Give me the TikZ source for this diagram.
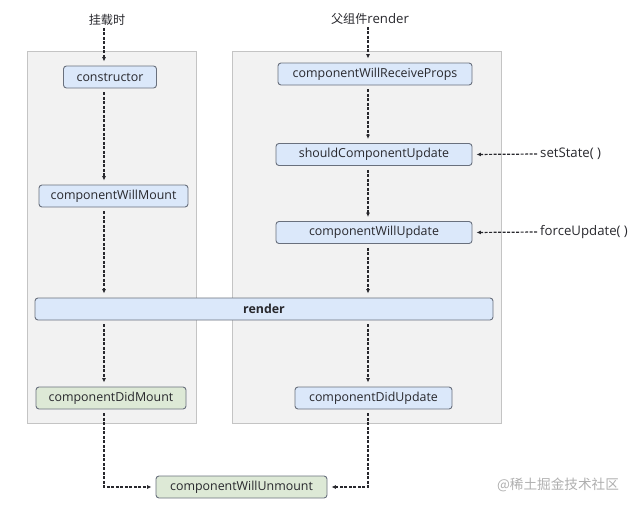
\documentclass[tikz,border=0pt]{standalone}
\usepackage{fontspec}
\setmainfont{Open Sans}
\newfontfamily\cjk[Scale=0.92]{Noto Sans CJK SC}
\usetikzlibrary{positioning,arrows.meta}
\definecolor{phasefill}{RGB}{242,242,242}
\definecolor{phaseline}{RGB}{196,196,196}
\definecolor{hookfill}{RGB}{219,232,250}
\definecolor{mountfill}{RGB}{221,233,214}
\definecolor{hookline}{RGB}{105,112,125}
\definecolor{hooktext}{RGB}{40,40,45}
\definecolor{marktext}{RGB}{175,175,175}
\tikzset{
  phase/.style={draw=phaseline,fill=phasefill,line width=0.8pt},
  hook/.style={draw=hookline,fill=hookfill,rounded corners=3pt,line width=0.9pt,
    minimum height=22pt,inner sep=0pt,text=hooktext,font=\fontsize{12.4}{14}\selectfont},
  mounthook/.style={hook,fill=mountfill},
  caption/.style={text=hooktext,inner sep=1pt,font=\fontsize{13.2}{15}\selectfont},
  flow/.style={-{Latex[length=4.5pt,width=4pt]},dash pattern=on 3pt off 1.5pt,
    line width=1.2pt,draw=hooktext,shorten >=4pt,shorten <=4pt}
}
\begin{document}
\begin{tikzpicture}[x=1pt,y=-1pt]
  \useasboundingbox (0,0) rectangle (632,506);
  % phases
  \draw[phase] (27,51) rectangle (196,423);
  \draw[phase] (232,51) rectangle (501,423);
  \coordinate (mountcol) at (104,0);
  \coordinate (updatecol) at (368,0);
  % mounting
  \node[caption] (mountlabel) at (107,20) {\cjk 挂载时};
  \node[hook,minimum width=93pt] (constructor) at (110,77) {constructor};
  \node[hook,minimum width=149pt] (willmount) at (113.5,196) {componentWillMount};
  \node[hook,minimum width=458pt,font=\fontsize{12.4}{14}\selectfont\bfseries] (render) at (264,309) {render};
  \node[mounthook,minimum width=150pt] (didmount) at (111,398) {componentDidMount};
  \node[mounthook,minimum width=171pt] (willunmount) at (241.5,487) {componentWillUnmount};
  % updating
  \node[caption] (parentlabel) at (370,19) {{\cjk 父组件}render};
  \node[hook,minimum width=194pt] (receiveprops) at (375,74) {componentWillReceiveProps};
  \node[hook,minimum width=196pt] (shouldupdate) at (374,154.5) {shouldComponentUpdate};
  \node[hook,minimum width=196pt] (willupdate) at (374,232.5) {componentWillUpdate};
  \node[hook,minimum width=157pt] (didupdate) at (373.5,398) {componentDidUpdate};
  \node[caption,anchor=west] (setstate) at (539,154) {setState( )};
  \node[caption,anchor=west] (forceupdate) at (539,232) {forceUpdate( )};
  \node[caption,text=marktext,font=\fontsize{14.8}{17}\selectfont] (watermark) at (558,485) {\cjk @稀土掘金技术社区};
  % arrows
  \draw[flow,shorten <=1pt] (mountlabel.south -| mountcol) -- (constructor.north -| mountcol);
  \draw[flow] (constructor.south -| mountcol) -- (willmount.north -| mountcol);
  \draw[flow] (willmount.south -| mountcol) -- (render.north -| mountcol);
  \draw[flow] (render.south -| mountcol) -- (didmount.north -| mountcol);
  \draw[flow] (didmount.south -| mountcol) |- (willunmount.west);
  \draw[flow,shorten <=1pt] (parentlabel.south -| updatecol) -- (receiveprops.north -| updatecol);
  \draw[flow] (receiveprops.south -| updatecol) -- (shouldupdate.north -| updatecol);
  \draw[flow] (shouldupdate.south -| updatecol) -- (willupdate.north -| updatecol);
  \draw[flow] (willupdate.south -| updatecol) -- (render.north -| updatecol);
  \draw[flow] (render.south -| updatecol) -- (didupdate.north -| updatecol);
  \draw[flow] (didupdate.south -| updatecol) |- (willunmount.east);
  \draw[flow,shorten <=2pt] (setstate.west) -- (shouldupdate.east);
  \draw[flow,shorten <=2pt] (forceupdate.west) -- (willupdate.east);
\end{tikzpicture}
\end{document}
